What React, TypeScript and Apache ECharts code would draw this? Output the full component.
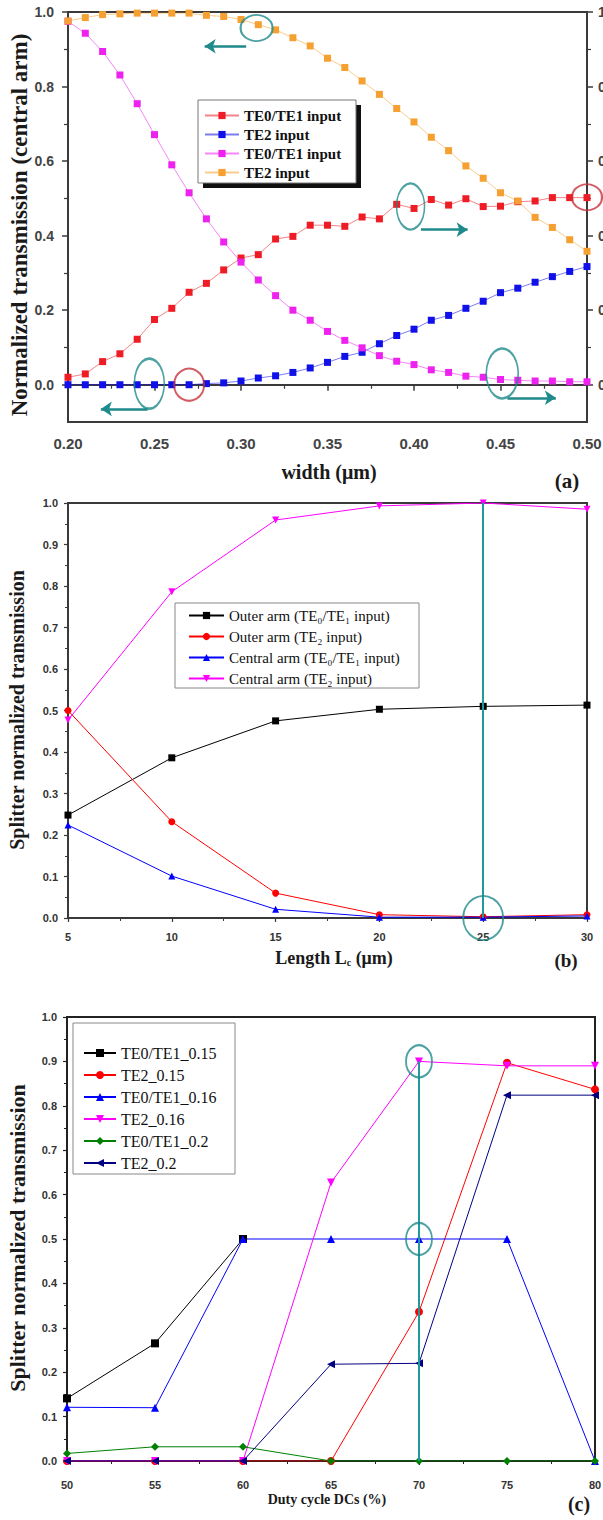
import React, { useEffect, useRef } from "react";
import * as echarts from "echarts";

// ---------------- Panel (a) data ----------------
const widthUm = [0.20, 0.21, 0.22, 0.23, 0.24, 0.25, 0.26, 0.27, 0.28, 0.29, 0.30, 0.31, 0.32, 0.33, 0.34, 0.35, 0.36, 0.37, 0.38, 0.39, 0.40, 0.41, 0.42, 0.43, 0.44, 0.45, 0.46, 0.47, 0.48, 0.49, 0.50];
const aRedTE01 = [0.02, 0.029, 0.062, 0.083, 0.122, 0.175, 0.205, 0.248, 0.272, 0.308, 0.34, 0.349, 0.391, 0.398, 0.428, 0.428, 0.425, 0.45, 0.445, 0.484, 0.473, 0.497, 0.482, 0.499, 0.478, 0.479, 0.491, 0.493, 0.502, 0.502, 0.502];
const aBlueTE2 = [0, 0, 0, 0, 0, 0, 0, 0, 0.003, 0.005, 0.01, 0.018, 0.024, 0.033, 0.045, 0.06, 0.076, 0.087, 0.11, 0.132, 0.149, 0.173, 0.186, 0.205, 0.224, 0.247, 0.259, 0.275, 0.29, 0.304, 0.317];
const aMagentaTE01 = [0.975, 0.943, 0.894, 0.831, 0.754, 0.671, 0.59, 0.515, 0.445, 0.383, 0.329, 0.281, 0.239, 0.2, 0.173, 0.143, 0.119, 0.099, 0.078, 0.063, 0.054, 0.04, 0.033, 0.023, 0.02, 0.014, 0.012, 0.01, 0.01, 0.008, 0.008];
const aOrangeTE2 = [0.976, 0.985, 0.993, 0.995, 0.997, 0.997, 0.997, 0.997, 0.991, 0.988, 0.98, 0.966, 0.952, 0.931, 0.909, 0.876, 0.851, 0.815, 0.779, 0.741, 0.705, 0.664, 0.628, 0.587, 0.554, 0.515, 0.493, 0.449, 0.422, 0.389, 0.358];
const aTicksMajor = [0, 0.2, 0.4, 0.6, 0.8, 1.0];
const aTicksMinor = [0.1, 0.3, 0.5, 0.7, 0.9];
const aLegendNames = ["TE0/TE1 input", "TE2 input", "TE0/TE1 input", "TE2 input"];
// annotation anchors (data coordinates)
const aTealRings = [[0.309, 0.957], [0.398, 0.478], [0.247, 0.003], [0.451, 0.03]];
const aRedRings = [[0.50, 0.503], [0.27, 0.0]];
const aArrows = [
  [[0.303, 0.908], [0.279, 0.908]],
  [[0.404, 0.416], [0.431, 0.416]],
  [[0.246, -0.065], [0.219, -0.065]],
  [[0.454, -0.035], [0.482, -0.035]],
];

// ---------------- Panel (b) data ----------------
const lengthUm = [5, 10, 15, 20, 25, 30];
const bOuterTE01 = [0.248, 0.386, 0.475, 0.503, 0.51, 0.513];
const bOuterTE2 = [0.5, 0.232, 0.06, 0.008, 0.003, 0.008];
const bCentralTE01 = [0.224, 0.101, 0.021, 0.002, 0.002, 0.005];
const bCentralTE2 = [0.477, 0.786, 0.959, 0.993, 1.0, 0.985];
const bLegendNames = ["Outer arm (TE\u2080/TE\u2081 input)", "Outer arm (TE\u2082 input)", "Central arm (TE\u2080/TE\u2081 input)", "Central arm (TE\u2082 input)"];
const bMarkerLine = [[25, 0], [25, 1.0]];
const bRings = [[25, 0]];

// ---------------- Panel (c) data ----------------
const dutyCycle = [50, 55, 60, 65, 70, 75, 80];
const cTE01_015 = [0.141, 0.265, 0.5, null, null, null, null];
const cTE2_015 = [0, 0, 0, 0, 0.336, 0.897, 0.837];
const cTE01_016 = [0.121, 0.12, 0.5, 0.5, 0.5, 0.5, 0];
const cTE2_016 = [0, 0, 0, 0.627, 0.9, 0.89, 0.89];
const cTE01_02 = [0.017, 0.032, 0.032, 0, 0, 0, 0];
const cTE2_02 = [0, 0, 0, 0.218, 0.22, 0.824, 0.824];
const cLegendNames = ["TE0/TE1_0.15", "TE2_0.15", "TE0/TE1_0.16", "TE2_0.16", "TE0/TE1_0.2", "TE2_0.2"];
const cMarkerLine = [[70, 0], [70, 0.9]];
const cRings = [[70, 0.9], [70, 0.5]];

const SERIF = "'Liberation Serif', 'Times New Roman', 'DejaVu Serif', serif";
const SANS = "'Liberation Sans', Arial, sans-serif";
const TEAL = "#1f8a8b";
const AXIS = "#3a3a3a";

const INV_TRI = "path://M0,0L2,0L1,2Z";
const LEFT_TRI = "path://M0,1L2,0L2,2Z";

function pts(xs: number[], ys: (number | null)[]) {
  const out: number[][] = [];
  xs.forEach((x, i) => {
    const y = ys[i];
    if (y !== null && y !== undefined) out.push([x, y]);
  });
  return out;
}

function lineSeries(name: string, color: string, symbol: string, size: number, xs: number[], ys: (number | null)[], xi: number, yi: number, lineOpacity = 1) {
  return {
    type: "line",
    name,
    xAxisIndex: xi,
    yAxisIndex: yi,
    data: pts(xs, ys),
    symbol,
    symbolSize: size,
    showSymbol: true,
    itemStyle: { color },
    lineStyle: { color, width: 1, opacity: lineOpacity },
    emphasis: { disabled: true },
    z: 3,
  };
}

const keyName = (panel: string, i: number, label: string) => `${panel}${i}|${label}`;
const fmtLegend = (n: string) => n.split("|")[1];

function ringSeries(xi: number, yi: number, coords: number[][], sizes: number[][], color: string) {
  return {
    type: "scatter",
    xAxisIndex: xi,
    yAxisIndex: yi,
    symbol: "circle",
    clip: false,
    silent: true,
    z: 6,
    data: coords.map((c, i) => ({ value: c, symbolSize: sizes[i] })),
    itemStyle: { color: "rgba(0,0,0,0)", borderColor: color, borderWidth: 2 },
  };
}

function linesSeries(xi: number, yi: number, segs: number[][][], color: string, width: number, arrow: boolean) {
  return {
    type: "lines",
    coordinateSystem: "cartesian2d",
    xAxisIndex: xi,
    yAxisIndex: yi,
    silent: true,
    z: 6,
    symbol: arrow ? ["none", "arrow"] : ["none", "none"],
    symbolSize: arrow ? [9, 11] : 0,
    lineStyle: { color, width, opacity: 1, curveness: 0 },
    data: segs.map((s) => ({ coords: s })),
  };
}

function makeOption() {
  const tickLabelA = { fontFamily: SANS, fontWeight: "bold", fontSize: 14, color: "#444" };
  const tickLabelBC = { fontFamily: SANS, fontWeight: "bold", fontSize: 11, color: "#333" };

  const xAxis = [
    {
      gridIndex: 0, type: "value", min: 0.2, max: 0.5, interval: 0.05,
      axisLine: { show: true, lineStyle: { color: AXIS, width: 2 } },
      axisTick: { show: true, length: 6, lineStyle: { color: AXIS, width: 1.5 } },
      minorTick: { show: true, splitNumber: 2, length: 4, lineStyle: { color: AXIS, width: 1.2 } },
      axisLabel: { ...tickLabelA, fontSize: 15, margin: 14, formatter: (v: number) => v.toFixed(2) },
      splitLine: { show: false },
    },
    {
      gridIndex: 1, type: "value", min: 5, max: 30, interval: 5,
      axisLine: { show: true, lineStyle: { color: AXIS, width: 2 } },
      axisTick: { show: true, length: 4, lineStyle: { color: AXIS, width: 1.2 } },
      minorTick: { show: true, splitNumber: 2, length: 3, lineStyle: { color: AXIS, width: 1 } },
      axisLabel: { ...tickLabelBC, margin: 13, formatter: (v: number) => String(Math.round(v)) },
      splitLine: { show: false },
    },
    {
      gridIndex: 2, type: "value", min: 50, max: 80, interval: 5,
      axisLine: { show: true, lineStyle: { color: "#222", width: 2 } },
      axisTick: { show: true, length: 4, lineStyle: { color: "#222", width: 1.2 } },
      minorTick: { show: true, splitNumber: 2, length: 3, lineStyle: { color: "#222", width: 1 } },
      axisLabel: { ...tickLabelBC, margin: 18, formatter: (v: number) => String(Math.round(v)) },
      splitLine: { show: false },
    },
  ];

  const yAxis = [
    {
      gridIndex: 0, type: "value", min: -0.1, max: 1.0, position: "left",
      axisLine: { show: true, lineStyle: { color: AXIS, width: 2 } },
      axisTick: { show: true, length: 6, customValues: aTicksMajor, lineStyle: { color: AXIS, width: 1.5 } },
      axisLabel: { ...tickLabelA, margin: 14, customValues: aTicksMajor, formatter: (v: number) => v.toFixed(1) },
      splitLine: { show: false },
    },
    {
      gridIndex: 0, type: "value", min: -0.1, max: 1.0, position: "left",
      axisLine: { show: false },
      axisTick: { show: true, length: 4, customValues: aTicksMinor, lineStyle: { color: AXIS, width: 1.2 } },
      axisLabel: { show: false },
      splitLine: { show: false },
    },
    {
      gridIndex: 0, type: "value", min: -0.1, max: 1.0, position: "right",
      axisLine: { show: true, lineStyle: { color: AXIS, width: 2 } },
      axisTick: { show: true, length: 6, customValues: aTicksMajor, lineStyle: { color: AXIS, width: 1.5 } },
      axisLabel: { ...tickLabelA, margin: 11, customValues: aTicksMajor, formatter: (v: number) => v.toFixed(1) },
      splitLine: { show: false },
    },
    {
      gridIndex: 0, type: "value", min: -0.1, max: 1.0, position: "right",
      axisLine: { show: false },
      axisTick: { show: true, length: 4, customValues: aTicksMinor, lineStyle: { color: AXIS, width: 1.2 } },
      axisLabel: { show: false },
      splitLine: { show: false },
    },
    {
      gridIndex: 1, type: "value", min: 0, max: 1.0, interval: 0.1,
      axisLine: { show: true, lineStyle: { color: AXIS, width: 2 } },
      axisTick: { show: true, length: 4, lineStyle: { color: AXIS, width: 1.2 } },
      minorTick: { show: true, splitNumber: 2, length: 3, lineStyle: { color: AXIS, width: 1 } },
      axisLabel: { ...tickLabelBC, margin: 10, formatter: (v: number) => v.toFixed(1) },
      splitLine: { show: false },
    },
    {
      gridIndex: 2, type: "value", min: 0, max: 1.0, interval: 0.1,
      axisLine: { show: true, lineStyle: { color: "#222", width: 2 } },
      axisTick: { show: true, length: 4, lineStyle: { color: "#222", width: 1.2 } },
      minorTick: { show: true, splitNumber: 2, length: 3, lineStyle: { color: "#222", width: 1 } },
      axisLabel: { ...tickLabelBC, margin: 10, formatter: (v: number) => v.toFixed(1) },
      splitLine: { show: false },
    },
  ];

  const aColors = ["#ee1c24", "#1010e8", "#ee22ee", "#f5a030"];
  const aData = [aRedTE01, aBlueTE2, aMagentaTE01, aOrangeTE2];
  const aSeries = aData.map((d, i) => lineSeries(keyName("a", i, aLegendNames[i]), aColors[i], "rect", 7, widthUm, d, 0, 0, 0.55));

  const bColors = ["#000000", "#ff0000", "#0000ff", "#ff00ff"];
  const bSymbols = ["rect", "circle", "triangle", INV_TRI];
  const bData = [bOuterTE01, bOuterTE2, bCentralTE01, bCentralTE2];
  const bSeries = bData.map((d, i) => lineSeries(keyName("b", i, bLegendNames[i]), bColors[i], bSymbols[i], 7, lengthUm, d, 1, 4));

  const cColors = ["#000000", "#ff0000", "#0000ff", "#ff00ff", "#008000", "#000080"];
  const cSymbols = ["rect", "circle", "triangle", INV_TRI, "diamond", LEFT_TRI];
  const cData = [cTE01_015, cTE2_015, cTE01_016, cTE2_016, cTE01_02, cTE2_02];
  const cSeries = cData.map((d, i) => lineSeries(keyName("c", i, cLegendNames[i]), cColors[i], cSymbols[i], 8, dutyCycle, d, 2, 5));

  const annotations = [
    ringSeries(0, 0, aTealRings, [[32, 26], [28, 46], [30, 50], [32, 50]], TEAL),
    ringSeries(0, 0, aRedRings, [[30, 26], [30, 32]], "#c8323c"),
    linesSeries(0, 0, aArrows, TEAL, 2.5, true),
    linesSeries(1, 4, [bMarkerLine], "#1f9a9c", 2, false),
    ringSeries(1, 4, bRings, [[40, 44]], TEAL),
    linesSeries(2, 5, [cMarkerLine], "#1f9a9c", 2, false),
    ringSeries(2, 5, cRings, [[26, 32], [26, 32]], TEAL),
  ];

  const legend = [
    {
      orient: "vertical", left: 204, top: 108, padding: 0, itemWidth: 34, itemHeight: 9, itemGap: 4,
      selectedMode: false, formatter: fmtLegend,
      data: aSeries.map((s) => s.name),
      textStyle: { fontFamily: SERIF, fontWeight: "bold", fontSize: 15, lineHeight: 15, color: "#111" },
    },
    {
      orient: "vertical", left: 188, top: 608, padding: 0, itemWidth: 35, itemHeight: 9, itemGap: 6,
      selectedMode: false, formatter: fmtLegend,
      data: bSeries.map((s) => s.name),
      textStyle: { fontFamily: SERIF, fontSize: 15, lineHeight: 15, color: "#111" },
    },
    {
      orient: "vertical", left: 83, top: 1045, padding: 0, itemWidth: 32, itemHeight: 10, itemGap: 6,
      selectedMode: false, formatter: fmtLegend,
      data: cSeries.map((s) => s.name),
      textStyle: { fontFamily: SERIF, fontSize: 16, lineHeight: 16, color: "#111" },
    },
  ];

  const txt = (text: string, x: number, y: number, size: number, bold: boolean, rot = 0, extra: any = {}) => ({
    type: "text", x, y, rotation: rot, z: 10, silent: true,
    style: { text, fontFamily: SERIF, fontSize: size, fontWeight: bold ? "bold" : "normal", fill: "#1a1a1a", align: "center", verticalAlign: "middle", ...extra },
  });

  const graphic = [
    { type: "rect", z: 1, silent: true, shape: { x: 203, y: 105, width: 158, height: 83 }, style: { fill: "#111" } },
    { type: "rect", z: 1, silent: true, shape: { x: 198, y: 100, width: 158, height: 83 }, style: { fill: "#fff", stroke: "#777", lineWidth: 1 } },
    { type: "rect", z: 1, silent: true, shape: { x: 175, y: 603, width: 244, height: 85 }, style: { fill: "#fff", stroke: "#888", lineWidth: 1 } },
    { type: "rect", z: 1, silent: true, shape: { x: 73, y: 1023, width: 162, height: 151 }, style: { fill: "#fff", stroke: "#888", lineWidth: 1 } },
    txt("Normalized transmission (central arm)", 19, 225, 23, true, Math.PI / 2),
    txt("width (\u03bcm)", 329, 472, 20, true),
    txt("(a)", 567, 481, 21, true),
    txt("Splitter normalized transmission", 17, 710, 20, true, Math.PI / 2),
    {
      type: "text", x: 334, y: 958, z: 10, silent: true,
      style: {
        text: "Length L{sub|c} (\u03bcm)", fontFamily: SERIF, fontSize: 18, fontWeight: "bold", fill: "#1a1a1a", align: "center", verticalAlign: "middle",
        rich: { sub: { fontFamily: SERIF, fontSize: 10, fontWeight: "bold", fill: "#1a1a1a", padding: [8, 0, 0, 0] } },
      },
    },
    txt("(b)", 566, 960, 19, true),
    txt("Splitter normalized transmission", 17, 1238, 22, true, Math.PI / 2),
    txt("Duty cycle DCs (%)", 327, 1499, 14, true),
    txt("(c)", 579, 1504, 20, true),
  ];

  const gridCommon = { show: true, borderWidth: 2, backgroundColor: "rgba(0,0,0,0)", containLabel: false, outerBoundsMode: "none" };

  return {
    animation: false,
    backgroundColor: "#ffffff",
    grid: [
      { ...gridCommon, left: 68, top: 12, width: 519, height: 410, borderColor: AXIS },
      { ...gridCommon, left: 68, top: 503, width: 519, height: 415, borderColor: AXIS },
      { ...gridCommon, left: 67, top: 1017, width: 528, height: 444, borderColor: "#222" },
    ],
    xAxis,
    yAxis,
    legend,
    series: [...aSeries, ...bSeries, ...cSeries, ...annotations],
    graphic,
  };
}

export default function App() {
  const ref = useRef<HTMLDivElement>(null);
  useEffect(() => {
    document.body.style.margin = "0";
    if (!ref.current) return;
    const chart = echarts.init(ref.current, undefined, { renderer: "svg" });
    chart.setOption(makeOption() as any);
    return () => chart.dispose();
  }, []);
  return <div ref={ref} style={{ width: 603, height: 1520, background: "#fff" }} />;
}
